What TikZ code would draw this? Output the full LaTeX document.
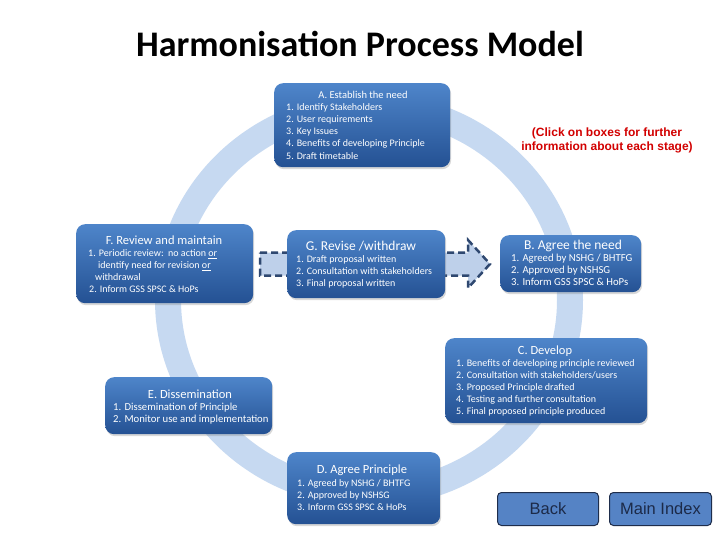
\documentclass[tikz,border=0pt]{standalone}
\usepackage{fontspec}
\setmainfont{Carlito}
\newfontfamily\arialf{Liberation Sans}
\usetikzlibrary{shadows}
\definecolor{ringblue}{RGB}{198,217,241}
\definecolor{arrowblue}{RGB}{190,208,234}
\definecolor{boxtop}{RGB}{78,133,202}
\definecolor{boxbot}{RGB}{36,81,147}
\definecolor{dashnavy}{RGB}{47,72,112}
\definecolor{btnfill}{RGB}{85,131,197}
\definecolor{btnline}{RGB}{30,45,75}
\definecolor{btntext}{RGB}{28,42,72}
\definecolor{clickred}{RGB}{210,0,0}
\begin{document}
\begin{tikzpicture}[x=1pt,y=-1pt,
  stagebox/.style={rounded corners=9pt, top color=boxtop, bottom color=boxbot, draw=none,
    anchor=north west, inner sep=0pt,
    drop shadow={opacity=0.3, shadow xshift=1pt, shadow yshift=-2pt}},
  stitle/.style={text=white, inner sep=0pt, font=\fontsize{12.5}{14}\selectfont},
  bigtitle/.style={font=\fontsize{13.5}{15}\selectfont},
  smalltitle/.style={font=\fontsize{10.5}{12}\selectfont},
  sitem/.style={text=white, inner sep=0pt, anchor=west, text height=7pt, text depth=2pt,
    font=\fontsize{10}{11}\selectfont},
  bigitem/.style={font=\fontsize{10.7}{11}\selectfont},
  btn/.style={rounded corners=4pt, fill=btnfill, draw=btnline, line width=1pt, text=btntext,
    anchor=north west, inner sep=0pt, font=\arialf\fontsize{16.5}{18}\selectfont},
  clicknote/.style={text=clickred, align=center, inner sep=0pt,
    font=\arialf\bfseries\fontsize{12}{14}\selectfont},
  maintitle/.style={inner sep=0pt, anchor=base, font=\bfseries\fontsize{36}{40}\selectfont}
]
\useasboundingbox (0,0) rectangle (720,540);
\fill[white] (0,0) rectangle (720,540);

% title
\node[maintitle] (title) at (360,57) {Harmonisation Process Model};

% ring
\draw[ringblue, line width=26pt] (369,300) ellipse [x radius=201, y radius=194];

% dashed block arrow
\filldraw[fill=arrowblue, draw=dashnavy, line width=2.5pt, dash pattern=on 7pt off 4pt, line join=miter]
  (260,252.5) -- (468,252.5) -- (468,240) -- (490,264) -- (468,288) -- (468,275.5) -- (260,275.5) -- cycle;

% A
\node[stagebox, minimum width=176pt, minimum height=84pt] (A) at (274,83) {};
\node[stitle, smalltitle] (At) at (363,95) {A. Establish the need};
\node[sitem] (A1) at (286,108) {1. Identify Stakeholders};
\node[sitem] (A2) at (286,120) {2. User requirements};
\node[sitem] (A3) at (286,132) {3. Key Issues};
\node[sitem] (A4) at (286,144) {4. Benefits of developing Principle};
\node[sitem] (A5) at (286,157) {5. Draft timetable};

% F
\node[stagebox, minimum width=177pt, minimum height=79pt] (F) at (76,224) {};
\node[stitle] (Ft) at (164,240) {F. Review and maintain};
\node[sitem] (F1) at (88,254) {1. Periodic review:\ \ no action \underline{or}};
\node[sitem] (F2) at (98,266) {identify need for revision \underline{or}};
\node[sitem] (F3) at (95,278) {withdrawal};
\node[sitem] (F4) at (89,290) {2. Inform GSS SPSC \& HoPs};

% G
\node[stagebox, minimum width=158pt, minimum height=68pt] (G) at (287,230) {};
\node[stitle, bigtitle] (Gt) at (361,246) {G. Revise /withdraw};
\node[sitem] (G1) at (296,260) {1. Draft proposal written};
\node[sitem] (G2) at (296,272) {2. Consultation with stakeholders};
\node[sitem] (G3) at (296,284) {3. Final proposal written};

% B
\node[stagebox, minimum width=141pt, minimum height=57pt] (B) at (500,235) {};
\node[stitle, bigtitle] (Bt) at (573,246) {B. Agree the need};
\node[sitem, bigitem] (B1) at (511,259) {1. Agreed by NSHG / BHTFG};
\node[sitem, bigitem] (B2) at (511,271) {2. Approved by NSHSG};
\node[sitem, bigitem] (B3) at (511,283) {3. Inform GSS SPSC \& HoPs};

% C
\node[stagebox, minimum width=202pt, minimum height=85pt] (C) at (445,338) {};
\node[stitle] (Ct) at (545,351) {C. Develop};
\node[sitem] (C1) at (456,364) {1. Benefits of developing principle reviewed};
\node[sitem] (C2) at (456,376) {2. Consultation with stakeholders/users};
\node[sitem] (C3) at (456,388) {3. Proposed Principle drafted};
\node[sitem] (C4) at (456,400) {4. Testing and further consultation};
\node[sitem] (C5) at (456,412) {5. Final proposed principle produced};

% E
\node[stagebox, minimum width=167pt, minimum height=57pt] (E) at (105,377) {};
\node[stitle] (Et) at (190,394) {E. Dissemination};
\node[sitem, bigitem] (E1) at (113,408) {1. Dissemination of Principle};
\node[sitem, bigitem] (E2) at (113,420) {2. Monitor use and implementation};

% D
\node[stagebox, minimum width=153pt, minimum height=72pt] (D) at (287,452) {};
\node[stitle] (Dt) at (362,470) {D. Agree Principle};
\node[sitem] (D1) at (297,484) {1. Agreed by NSHG / BHTFG};
\node[sitem] (D2) at (297,496) {2. Approved by NSHSG};
\node[sitem] (D3) at (297,508) {3. Inform GSS SPSC \& HoPs};

% note
\node[clicknote] (note) at (607,140) {(Click on boxes for further\\information about each stage)};

% buttons
\node[btn, minimum width=101pt, minimum height=33pt] (back) at (497,492) {Back};
\node[btn, minimum width=102pt, minimum height=33pt] (mainidx) at (609,492) {Main Index};
\end{tikzpicture}
\end{document}
